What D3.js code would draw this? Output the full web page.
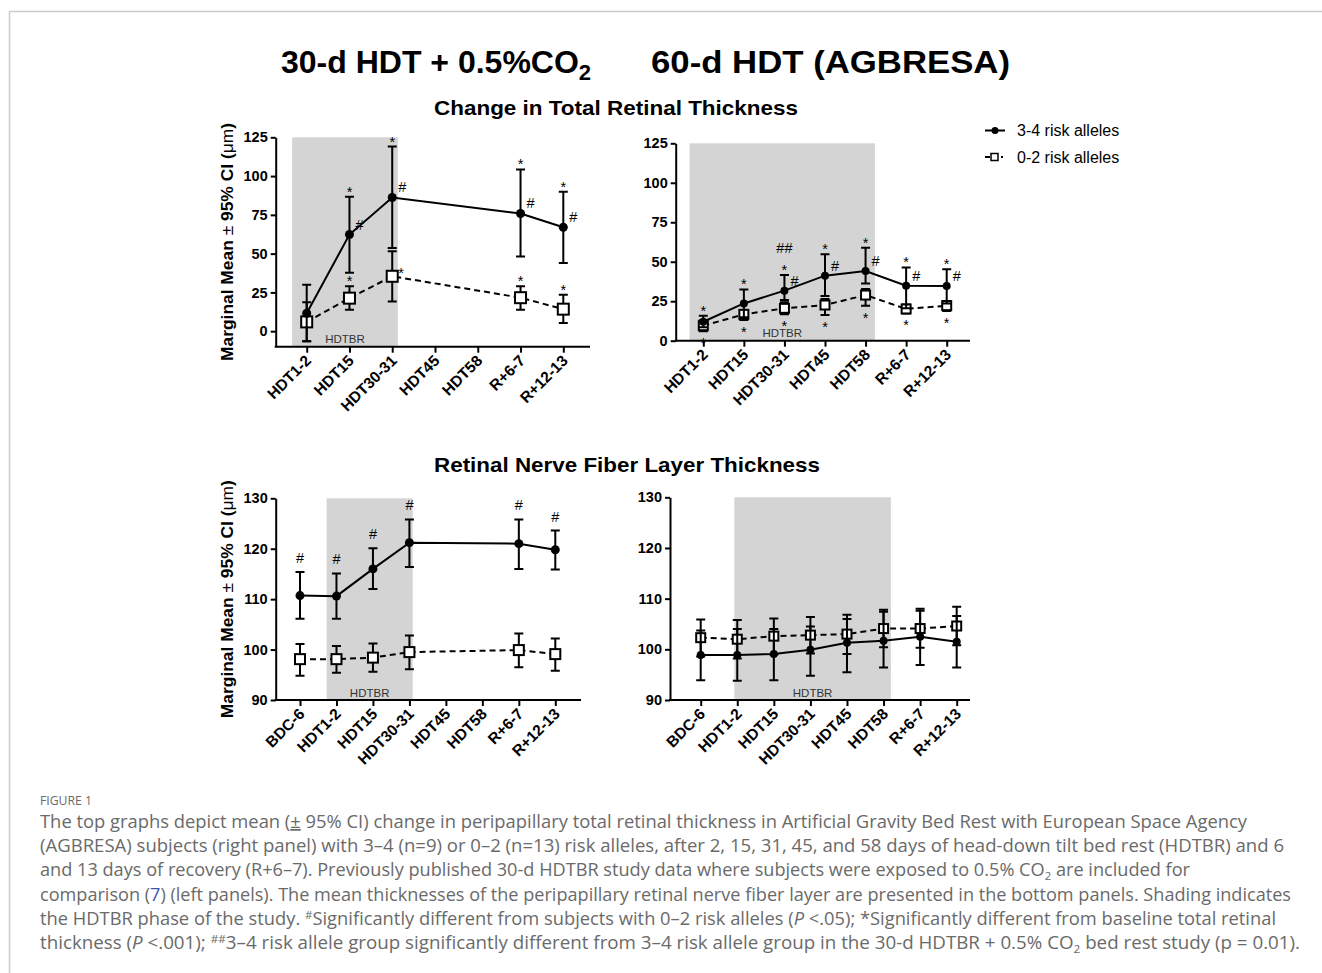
<!DOCTYPE html>
<html>
<head>
<meta charset="utf-8">
<script src="https://cdn.jsdelivr.net/npm/d3@7"></script>
<style>
	body { margin: 0; background: #fff; }
	svg { display: block; font-family: "Liberation Sans", Arial, sans-serif; }
</style>
</head>
<body>
<svg id="fig" width="1322" height="973"></svg>
<script>
// time points
const catsTop		= ['HDT1-2', 'HDT15', 'HDT30-31', 'HDT45', 'HDT58', 'R+6-7', 'R+12-13'];
const catsBottom	= ['BDC-6', 'HDT1-2', 'HDT15', 'HDT30-31', 'HDT45', 'HDT58', 'R+6-7', 'R+12-13'];
const yTicksTop		= [0, 25, 50, 75, 100, 125];
const yTicksBottom	= [90, 100, 110, 120, 130];

// top left : 30-d HDT + 0.5% CO2, change in total retinal thickness
const tlHiMean	= [11.6, 62.3, 86.2, null, null, 75.9, 67.0];
const tlHiLow	= [-6.5, 37.7, 53.7, null, null, 48.1, 44.0];
const tlHiUp	= [30.0, 86.6, 119.0, null, null, 104.3, 89.9];
const tlLoMean	= [6.0, 21.3, 35.4, null, null, 21.6, 14.2];
const tlLoLow	= [-6.5, 13.8, 19.2, null, null, 13.8, 5.2];
const tlLoUp	= [18.7, 28.9, 51.5, null, null, 28.9, 23.5];

// top right : 60-d HDT (AGBRESA)
const trHiMean	= [12.0, 23.6, 31.7, 41.2, 44.1, 34.8, 34.6];
const trHiLow	= [8.5, 14.8, 25.8, 28.3, 36.3, 20.5, 23.6];
const trHiUp	= [15.8, 32.5, 41.6, 54.7, 58.9, 46.4, 45.2];
const trLoMean	= [9.5, 16.7, 20.5, 22.6, 28.9, 20.1, 22.2];
const trLoLow	= [6.0, 13.1, 16.7, 16.3, 22.2, 17.3, 18.8];
const trLoUp	= [13.0, 19.4, 24.3, 26.4, 32.7, 23.0, 25.1];

// bottom left : RNFL thickness, 30-d study
const blHiMean	= [110.7, 110.6, 116.0, 121.2, null, null, 121.0, 119.8];
const blHiLow	= [106.1, 106.1, 112.0, 116.4, null, null, 116.0, 115.9];
const blHiUp	= [115.4, 115.1, 120.1, 125.8, null, null, 125.8, 123.6];
const blLoMean	= [98.1, 98.1, 98.4, 99.5, null, null, 99.9, 99.1];
const blLoLow	= [94.8, 95.4, 95.6, 96.1, null, null, 96.5, 95.8];
const blLoUp	= [101.1, 100.7, 101.2, 102.8, null, null, 103.2, 102.2];

// bottom right : RNFL thickness, AGBRESA
const brHiMean	= [98.9, 98.9, 99.1, 99.9, 101.3, 101.7, 102.5, 101.5];
const brHiLow	= [93.9, 93.8, 93.9, 94.8, 95.5, 96.4, 96.9, 96.4];
const brHiUp	= [103.7, 104.0, 104.0, 104.5, 106.0, 107.4, 107.6, 106.6];
const brLoMean	= [102.3, 102.0, 102.6, 102.8, 103.0, 104.1, 104.1, 104.6];
const brLoLow	= [98.6, 98.2, 99.0, 99.2, 99.1, 100.4, 100.3, 100.8];
const brLoUp	= [105.9, 105.8, 106.1, 106.4, 106.8, 107.8, 108.0, 108.4];

// significance marks : [time point, series, where, symbol]
const marksTL = [
	['HDT15', 'hi', 'top', '*'], ['HDT15', 'hi', 'right', '#'], ['HDT15', 'lo', 'top', '*'],
	['HDT30-31', 'hi', 'top', '*'], ['HDT30-31', 'hi', 'right', '#'], ['HDT30-31', 'lo', 'right', '*'],
	['R+6-7', 'hi', 'top', '*'], ['R+6-7', 'hi', 'right', '#'], ['R+6-7', 'lo', 'top', '*'],
	['R+12-13', 'hi', 'top', '*'], ['R+12-13', 'hi', 'right', '#'], ['R+12-13', 'lo', 'top', '*']
];
const marksTR = [
	['HDT1-2', 'hi', 'top', '*'], ['HDT1-2', 'lo', 'bottom', '*'],
	['HDT15', 'hi', 'top', '*'], ['HDT15', 'lo', 'bottom', '*'],
	['HDT30-31', 'hi', 'top', '*'], ['HDT30-31', 'hi', 'top2', '##'], ['HDT30-31', 'hi', 'right', '#'], ['HDT30-31', 'lo', 'bottom', '*'],
	['HDT45', 'hi', 'top', '*'], ['HDT45', 'hi', 'right', '#'], ['HDT45', 'lo', 'bottom', '*'],
	['HDT58', 'hi', 'top', '*'], ['HDT58', 'hi', 'right', '#'], ['HDT58', 'lo', 'bottom', '*'],
	['R+6-7', 'hi', 'top', '*'], ['R+6-7', 'hi', 'right', '#'], ['R+6-7', 'lo', 'bottom', '*'],
	['R+12-13', 'hi', 'top', '*'], ['R+12-13', 'hi', 'right', '#'], ['R+12-13', 'lo', 'bottom', '*']
];
const marksBL = [
	['BDC-6', 'hi', 'top', '#'], ['HDT1-2', 'hi', 'top', '#'], ['HDT15', 'hi', 'top', '#'],
	['HDT30-31', 'hi', 'top', '#'], ['R+6-7', 'hi', 'top', '#'], ['R+12-13', 'hi', 'top', '#']
];
const marksBR = [];

const captionLines = [
	[['The top graphs depict mean ('], ['±', 'u'], [' 95% CI) change in peripapillary total retinal thickness in Artificial Gravity Bed Rest with European Space Agency']],
	[['(AGBRESA) subjects (right panel) with 3–4 (n=9) or 0–2 (n=13) risk alleles, after 2, 15, 31, 45, and 58 days of head-down tilt bed rest (HDTBR) and 6']],
	[['and 13 days of recovery (R+6–7). Previously published 30-d HDTBR study data where subjects were exposed to 0.5% CO'], ['2', 'sub'], [' are included for']],
	[['comparison ('], ['7', 'link'], [') (left panels). The mean thicknesses of the peripapillary retinal nerve fiber layer are presented in the bottom panels. Shading indicates']],
	[['the HDTBR phase of the study. '], ['#', 'sup'], ['Significantly different from subjects with 0–2 risk alleles ('], ['P', 'i'], [' <.05); *Significantly different from baseline total retinal']],
	[['thickness ('], ['P', 'i'], [' <.001); '], ['##', 'sup'], ['3–4 risk allele group significantly different from 3–4 risk allele group in the 30-d HDTBR + 0.5% CO'], ['2', 'sub'], [' bed rest study (p = 0.01).']]
];
const captionWidths = [1207, 1244, 1150, 1251, 1236, 1260];

const svg = d3.select('#fig');

// page frame
svg.append('path').attr('d', 'M9.5,973V11.5H1322').attr('fill', 'none').attr('stroke', '#cccccc').attr('stroke-width', 1.5);

// headings
var h1 = svg.append('text').attr('x', 281).attr('y', 73).attr('font-size', 32).attr('font-weight', 'bold');
h1.append('tspan').text('30-d HDT + 0.5%CO');
h1.append('tspan').attr('font-size', 22).attr('dy', 7).text('2');
svg.append('text').attr('x', 651).attr('y', 73).attr('font-size', 32).attr('font-weight', 'bold')
	.attr('textLength', 359).attr('lengthAdjust', 'spacingAndGlyphs').text('60-d HDT (AGBRESA)');
svg.append('text').attr('x', 434).attr('y', 115).attr('font-size', 21).attr('font-weight', 'bold')
	.attr('textLength', 364).attr('lengthAdjust', 'spacingAndGlyphs').text('Change in Total Retinal Thickness');
svg.append('text').attr('x', 434).attr('y', 472).attr('font-size', 21).attr('font-weight', 'bold')
	.attr('textLength', 386).attr('lengthAdjust', 'spacingAndGlyphs').text('Retinal Nerve Fiber Layer Thickness');

function series(mean, low, up){
	return {mean: mean, low: low, up: up};
}

const panels = [
	{cats: catsTop, hi: series(tlHiMean, tlHiLow, tlHiUp), lo: series(tlLoMean, tlLoLow, tlLoUp), marks: marksTL,
		yDomain: [-10, 125], yTicks: yTicksTop, left: 275.7, right: 590, xFirst: 306.7, xLast: 563.3, top: 137.3, bottom: 346.7,
		shade: ['HDT1-2', -0.34, 'HDT30-31', 0.13], r: 4.5, sq: 11, yLabel: true},
	{cats: catsTop, hi: series(trHiMean, trHiLow, trHiUp), lo: series(trLoMean, trLoLow, trLoUp), marks: marksTR,
		yDomain: [0, 125], yTicks: yTicksTop, left: 675.7, right: 970, xFirst: 703.3, xLast: 946.7, top: 143.3, bottom: 340.7,
		shade: ['HDT1-2', -0.34, 'HDT58', 0.23], r: 4, sq: 9, yLabel: false},
	{cats: catsBottom, hi: series(blHiMean, blHiLow, blHiUp), lo: series(blLoMean, blLoLow, blLoUp), marks: marksBL,
		yDomain: [90, 130], yTicks: yTicksBottom, left: 275.7, right: 581, xFirst: 300, xLast: 555.3, top: 498.3, bottom: 700,
		shade: ['HDT1-2', -0.27, 'HDT30-31', 0.09], r: 4.5, sq: 10, yLabel: true},
	{cats: catsBottom, hi: series(brHiMean, brHiLow, brHiUp), lo: series(brLoMean, brLoLow, brLoUp), marks: marksBR,
		yDomain: [90, 130], yTicks: yTicksBottom, left: 670, right: 970, xFirst: 700.7, xLast: 956.7, top: 497.3, bottom: 700,
		shade: ['HDT1-2', -0.08, 'HDT58', 0.2], r: 4, sq: 9, yLabel: false}
];

panels.forEach(drawPanel);

/**
 * Draws one panel : shading, axes, both allele groups and the significance marks
 */
function drawPanel(p){
	var g = svg.append('g');
	var x = d3.scalePoint().domain(p.cats).range([p.xFirst, p.xLast]);
	var y = d3.scaleLinear().domain(p.yDomain).range([p.bottom, p.top]);
	var step = x.step();

	// HDTBR phase
	var sx0 = x(p.shade[0]) + p.shade[1] * step;
	var sx1 = x(p.shade[2]) + p.shade[3] * step;
	g.append('rect').attr('x', sx0).attr('y', p.top).attr('width', sx1 - sx0).attr('height', p.bottom - p.top).attr('fill', '#d4d4d4');
	g.append('text').attr('x', (sx0 + sx1) / 2).attr('y', p.bottom - 3.5).attr('text-anchor', 'middle')
		.attr('font-size', 11.5).attr('fill', '#333').text('HDTBR');

	// axes
	var yAxis = g.append('g').attr('transform', 'translate(' + p.left + ',0)')
		.call(d3.axisLeft(y).tickValues(p.yTicks).tickSize(5).tickSizeOuter(0).tickPadding(3));
	yAxis.select('.domain').attr('stroke-width', 2);
	yAxis.selectAll('.tick line').attr('stroke-width', 2);
	yAxis.selectAll('.tick text').style('font-size', '14.5px').style('font-weight', 'bold').style('font-family', '"Liberation Sans", Arial, sans-serif');

	var xAxis = g.append('g').attr('transform', 'translate(0,' + p.bottom + ')')
		.call(d3.axisBottom(x).tickSize(6).tickSizeOuter(0));
	xAxis.select('.domain').remove();
	xAxis.append('line').attr('x1', p.left - 1).attr('x2', p.right).attr('stroke', '#000').attr('stroke-width', 2);
	xAxis.selectAll('.tick line').attr('stroke-width', 2);
	xAxis.selectAll('.tick text')
		.style('font-size', '15.5px').style('font-weight', 'bold').style('font-family', '"Liberation Sans", Arial, sans-serif')
		.attr('text-anchor', 'end').attr('x', 0).attr('y', 0).attr('dy', 0)
		.attr('transform', 'translate(5,15) rotate(-45)');

	if(p.yLabel){
		var lab = g.append('text').attr('transform', 'translate(233,' + (p.top + p.bottom) / 2 + ') rotate(-90)')
			.attr('text-anchor', 'middle').attr('font-size', 16).attr('font-weight', 'bold')
			.attr('textLength', 238).attr('lengthAdjust', 'spacingAndGlyphs');
		lab.append('tspan').text('Marginal Mean ');
		lab.append('tspan').attr('font-weight', 'normal').text('±');
		lab.append('tspan').text(' 95% CI (');
		lab.append('tspan').attr('font-weight', 'normal').text('μm');
		lab.append('tspan').text(')');
	}

	drawSeries(g, x, y, p.cats, p.lo, false, p);
	drawSeries(g, x, y, p.cats, p.hi, true, p);

	// significance marks
	p.marks.forEach(function(m){
		var i = p.cats.indexOf(m[0]);
		var s = p[m[1]];
		var cx = x(m[0]);
		var tx = cx, ty, anchor = 'middle';
		var hash = m[3].indexOf('#') >= 0;
		if(m[2] === 'top') ty = y(s.up[i]) - (hash ? 9 : 0);
		else if(m[2] === 'top2') ty = y(s.up[i]) - 22;
		else if(m[2] === 'bottom') ty = y(s.low[i]) + 17;
		else { tx = cx + 6; ty = y(s.mean[i]) + (hash ? -5 : 2); anchor = 'start'; }
		g.append('text').attr('x', tx).attr('y', ty).attr('text-anchor', anchor).attr('font-size', 14.5).text(m[3]);
	});
}

/**
 * Draws error bars, connecting line and markers of one allele group
 */
function drawSeries(g, x, y, cats, s, filled, p){
	var pts = cats.map(function(c, i){
		return {c: c, m: s.mean[i], lo: s.low[i], up: s.up[i]};
	}).filter(function(d){ return d.m !== null; });
	var cw = 4.5;

	g.append('g').selectAll('path').data(pts).join('path')
		.attr('d', function(d){
			var cx = x(d.c);
			return 'M' + cx + ',' + y(d.lo) + 'V' + y(d.up) +
				'M' + (cx - cw) + ',' + y(d.lo) + 'h' + (2 * cw) +
				'M' + (cx - cw) + ',' + y(d.up) + 'h' + (2 * cw);
		})
		.attr('fill', 'none').attr('stroke', '#000').attr('stroke-width', 2);

	g.append('path').datum(pts)
		.attr('d', d3.line().x(function(d){ return x(d.c); }).y(function(d){ return y(d.m); }))
		.attr('fill', 'none').attr('stroke', '#000').attr('stroke-width', 2)
		.attr('stroke-dasharray', filled ? null : '6,4');

	if(filled){
		g.append('g').selectAll('circle').data(pts).join('circle')
			.attr('cx', function(d){ return x(d.c); }).attr('cy', function(d){ return y(d.m); })
			.attr('r', p.r).attr('fill', '#000');
	} else {
		g.append('g').selectAll('rect').data(pts).join('rect')
			.attr('x', function(d){ return x(d.c) - p.sq / 2; }).attr('y', function(d){ return y(d.m) - p.sq / 2; })
			.attr('width', p.sq).attr('height', p.sq)
			.attr('fill', '#fff').attr('stroke', '#000').attr('stroke-width', 2);
	}
}

// legend
var leg = svg.append('g');
leg.append('line').attr('x1', 985).attr('x2', 1005).attr('y1', 130.5).attr('y2', 130.5).attr('stroke', '#000').attr('stroke-width', 2);
leg.append('circle').attr('cx', 995).attr('cy', 130.5).attr('r', 3.5).attr('fill', '#000');
leg.append('text').attr('x', 1017).attr('y', 136).attr('font-size', 16).text('3-4 risk alleles');
leg.append('line').attr('x1', 985).attr('x2', 990).attr('y1', 157).attr('y2', 157).attr('stroke', '#000').attr('stroke-width', 2);
leg.append('rect').attr('x', 991).attr('y', 153.5).attr('width', 7).attr('height', 7).attr('fill', '#fff').attr('stroke', '#000').attr('stroke-width', 1.5);
leg.append('line').attr('x1', 1001).attr('x2', 1003).attr('y1', 157).attr('y2', 157).attr('stroke', '#000').attr('stroke-width', 2);
leg.append('text').attr('x', 1017).attr('y', 163).attr('font-size', 16).text('0-2 risk alleles');

// caption
var cap = svg.append('g').attr('font-family', '"Open Sans", sans-serif').attr('fill', '#6a6a6a');
cap.append('text').attr('x', 40).attr('y', 805).attr('font-size', 12).attr('textLength', 52).attr('lengthAdjust', 'spacingAndGlyphs').text('FIGURE 1');
captionLines.forEach(function(line, k){
	var t = cap.append('text').attr('x', 40).attr('y', 828 + k * 24.2).attr('font-size', 17.5)
		.attr('textLength', captionWidths[k]).attr('lengthAdjust', 'spacingAndGlyphs');
	var shift = 0;
	line.forEach(function(seg){
		var ts = t.append('tspan').text(seg[0]);
		var dy = -shift;
		if(seg[1] === 'sup'){ ts.attr('font-size', 11); dy += -6; shift = -6; }
		else if(seg[1] === 'sub'){ ts.attr('font-size', 11); dy += 4; shift = 4; }
		else shift = 0;
		if(dy !== 0) ts.attr('dy', dy);
		if(seg[1] === 'i') ts.attr('font-style', 'italic');
		if(seg[1] === 'u') ts.attr('text-decoration', 'underline');
		if(seg[1] === 'link') ts.attr('fill', '#3b55b0');
	});
});
</script>
</body>
</html>
